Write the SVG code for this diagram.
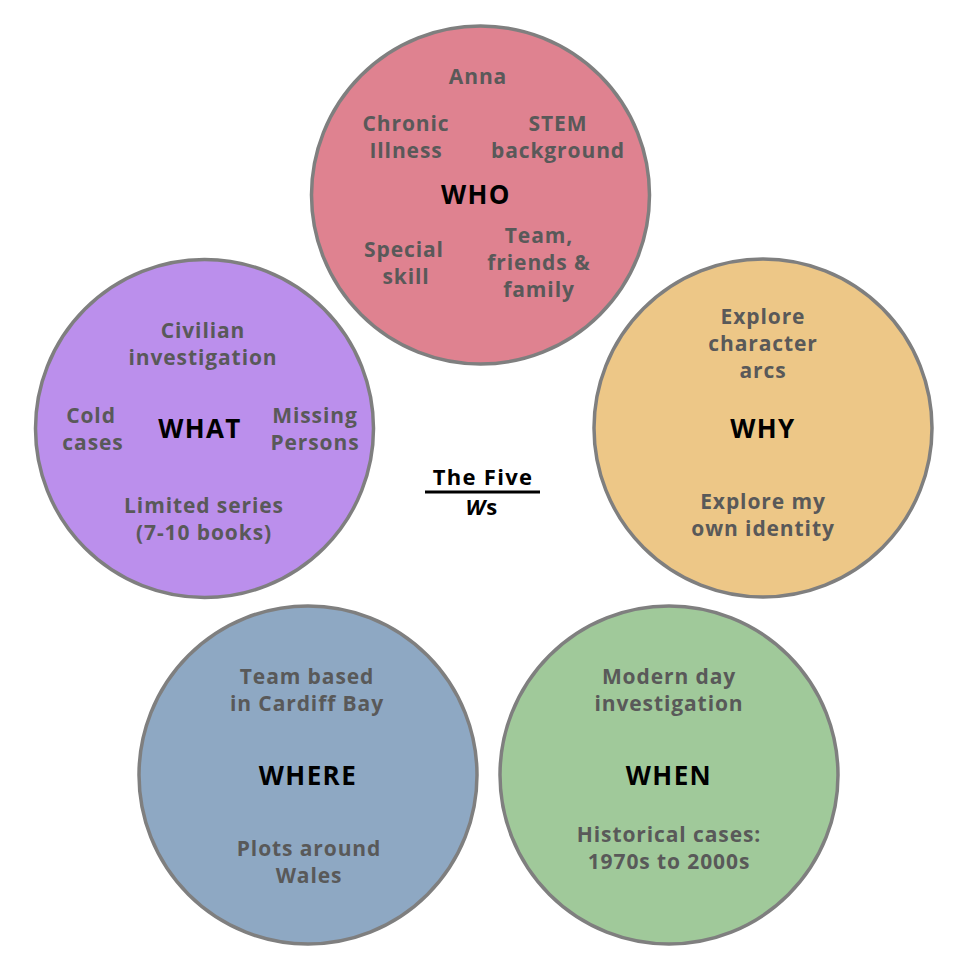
<svg xmlns="http://www.w3.org/2000/svg" width="965" height="965" viewBox="0 0 965 965">
<style>
.c{stroke:#7f7f7f;stroke-width:3.5}
.t{font-family:"Open Sans","Liberation Sans",sans-serif;font-weight:700;font-size:21px;letter-spacing:0.9px;fill:#595959;text-anchor:middle}
.h{font-family:"Open Sans","Liberation Sans",sans-serif;font-weight:700;font-size:26px;letter-spacing:1.4px;fill:#000;text-anchor:middle}
.m{font-family:"Open Sans","Liberation Sans",sans-serif;font-weight:700;font-size:22px;letter-spacing:1.3px;fill:#000;text-anchor:middle}
</style>
<rect width="965" height="965" fill="#fff"/>
<g id="who">
<circle class="c" cx="480.5" cy="195" r="169" fill="#df8290"/>
<text class="t" x="478" y="84">Anna</text>
<text class="t" x="406" y="131">Chronic</text>
<text class="t" x="406" y="158">Illness</text>
<text class="t" x="558" y="131">STEM</text>
<text class="t" x="558" y="158">background</text>
<text class="h" x="476" y="204">WHO</text>
<text class="t" x="404" y="257">Special</text>
<text class="t" x="406" y="284">skill</text>
<text class="t" x="539" y="243">Team,</text>
<text class="t" x="539" y="270">friends &amp;</text>
<text class="t" x="539" y="297">family</text>
</g>
<g id="what">
<circle class="c" cx="204.5" cy="428.5" r="169" fill="#bb8fec"/>
<text class="t" x="203" y="338">Civilian</text>
<text class="t" x="203" y="365">investigation</text>
<text class="t" x="91" y="423">Cold</text>
<text class="t" x="93" y="450">cases</text>
<text class="h" x="200" y="438">WHAT</text>
<text class="t" x="315" y="423">Missing</text>
<text class="t" x="315" y="450">Persons</text>
<text class="t" x="204" y="513">Limited series</text>
<text class="t" x="204" y="540">(7-10 books)</text>
</g>
<g id="why">
<circle class="c" cx="763" cy="428" r="169" fill="#edc787"/>
<text class="t" x="763" y="324">Explore</text>
<text class="t" x="763" y="351">character</text>
<text class="t" x="763" y="378">arcs</text>
<text class="h" x="763" y="438">WHY</text>
<text class="t" x="763" y="509">Explore my</text>
<text class="t" x="763" y="536">own identity</text>
</g>
<g id="where">
<circle class="c" cx="308" cy="775" r="169" fill="#8ea8c3"/>
<text class="t" x="307" y="684">Team based</text>
<text class="t" x="307" y="711">in Cardiff Bay</text>
<text class="h" x="308" y="785">WHERE</text>
<text class="t" x="309" y="856">Plots around</text>
<text class="t" x="309" y="883">Wales</text>
</g>
<g id="when">
<circle class="c" cx="669" cy="775" r="169" fill="#a0c99a"/>
<text class="t" x="669" y="684">Modern day</text>
<text class="t" x="669" y="711">investigation</text>
<text class="h" x="669" y="785">WHEN</text>
<text class="t" x="669" y="842">Historical cases:</text>
<text class="t" x="669" y="869">1970s to 2000s</text>
</g>
<g id="center">
<text class="m" x="483" y="485">The Five</text>
<line x1="425" y1="492" x2="540" y2="492" stroke="#000" stroke-width="3"/>
<text class="m" x="482" y="515"><tspan font-style="italic">W</tspan>s</text>
</g>
<g id="connectors"/>
</svg>
